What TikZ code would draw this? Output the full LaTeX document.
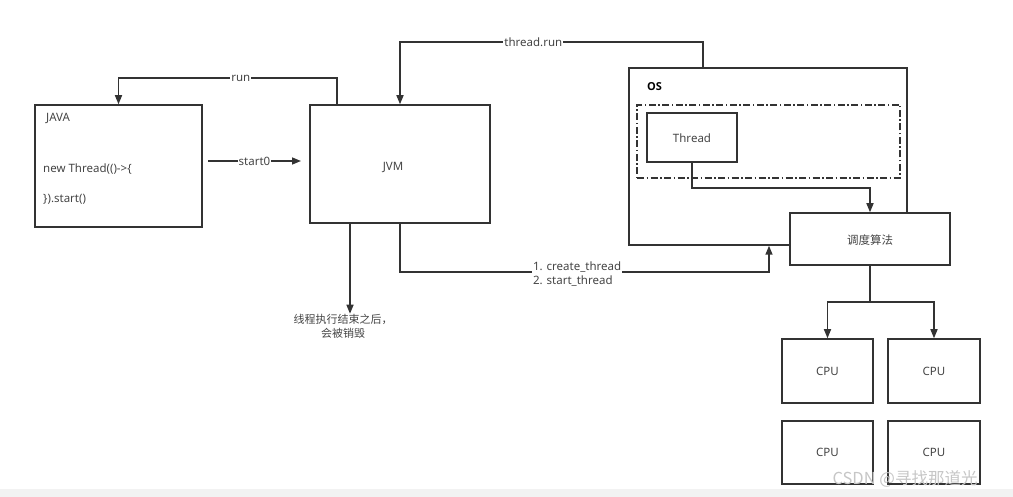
\documentclass[tikz,border=0pt]{standalone}
\usepackage{fontspec}
\setmainfont{Noto Sans}
\newfontfamily\cjk{Noto Sans CJK SC}
\newfontfamily\boldsans{Open Sans}
\usetikzlibrary{arrows.meta}
\definecolor{ln}{HTML}{333333}
\definecolor{tx}{HTML}{444444}
\tikzset{
  box/.style={draw=ln, line width=1.5pt, minimum width=#1, inner sep=0pt},
  arr/.style={draw=ln, line width=1.5pt, -{Triangle[length=9pt,width=7pt]}},
  lbl/.style={fill=white, inner sep=1pt, text=tx, font=\fontsize{11.5}{14}\selectfont},
  txt/.style={text=tx, font=\fontsize{11.5}{13}\selectfont, inner sep=0pt},
  dashdot/.style={draw=ln, line width=1.5pt, dash pattern=on 7pt off 2.5pt on 1.5pt off 2.5pt}
}
\begin{document}
\begin{tikzpicture}[x=1pt,y=-1pt]
\useasboundingbox (0,0) rectangle (1013,497);
\fill[gray!10] (0,489) rectangle (1013,497);
% boxes
\node[box=167pt, minimum height=122pt] (java) at (118.5,166) {};
\node[txt, anchor=west] (javat) at (46,118) {JAVA};
\node[txt, anchor=west] (code1) at (43,169) {new Thread(()->\{};
\node[txt, anchor=west] (code2) at (43,199) {\}).start()};
\node[box=180pt, minimum height=118pt] (jvm) at (400,164) {};
\node[txt] (jvmt) at (393,167) {JVM};
\node[box=278pt, minimum height=177pt] (os) at (768,156.5) {};
\node[txt, anchor=west, font=\boldsans\bfseries\fontsize{11}{12}\selectfont, text=black] (ost) at (647,87) {OS};
\node[dashdot, minimum width=263pt, minimum height=73pt, inner sep=0pt] (grp) at (768.5,141.5) {};
\node[box=90pt, minimum height=49pt] (thr) at (692,137.5) {};
\node[txt] (thrt) at (692,138) {Thread};
\node[box=160pt, minimum height=52pt, fill=white] (sch) at (870,239) {};
\node[txt, font=\cjk\fontsize{11.5}{12}\selectfont] (scht) at (870,240) {调度算法};
\node[box=91pt, minimum height=64pt] (cpu1) at (827.5,371) {};
\node[txt] at (cpu1) {CPU};
\node[box=92pt, minimum height=64pt] (cpu2) at (934,371) {};
\node[txt] at (cpu2) {CPU};
\node[box=91pt, minimum height=63pt] (cpu3) at (827.5,452.5) {};
\node[txt] at (cpu3) {CPU};
\node[box=92pt, minimum height=63pt] (cpu4) at (934,452.5) {};
\node[txt] at (cpu4) {CPU};
\node[txt, align=center, font=\cjk\fontsize{11}{14}\selectfont] (destroy) at (343,326) {线程执行结束之后，\\会被销毁};
% helper coordinates
\coordinate (runy) at (0,78);
\coordinate (try) at (0,42);
\coordinate (cty) at (0,272);
\coordinate (thy) at (0,188);
\coordinate (cpuy) at (0,302);
\coordinate (s0a) at (208,161);
\coordinate (s0b) at (301,161);
\coordinate (d0) at ([xshift=-50pt]jvm.south);
% connectors
\draw[arr] ([xshift=-63pt]jvm.north) -- ([xshift=-63pt]jvm.north |- runy)
  -- node[lbl, pos=0.44] {run} (java.north |- runy) -- (java.north);
\draw[arr] (s0a) -- node[lbl] {start0} (s0b);
\draw[arr] ([xshift=-65pt]os.north) -- ([xshift=-65pt]os.north |- try)
  -- node[lbl, pos=0.56] {thread.run} (jvm.north |- try) -- (jvm.north);
\draw[arr] (jvm.south) -- (jvm.south |- cty)
  -- node[lbl, pos=0.48, align=left, yshift=-2pt] {1. create\_thread\\2. start\_thread} ([xshift=1pt]os.south |- cty) -- ([xshift=1pt]os.south);
\draw[arr] (thr.south) -- (thr.south |- thy) -- (sch.north |- thy) -- (sch.north);
\draw[ln, line width=1.5pt] (sch.south) -- (sch.south |- cpuy);
\draw[arr] (sch.south |- cpuy) -| (cpu1.north);
\draw[arr] (sch.south |- cpuy) -| (cpu2.north);
\draw[arr] (d0) -- (d0 |- destroy.north);
% watermark
\node[text=gray!45, font=\cjk\fontsize{16.5}{18}\selectfont, inner sep=0pt] (wm) at (905,479) {CSDN @寻找那道光};
\end{tikzpicture}
\end{document}
